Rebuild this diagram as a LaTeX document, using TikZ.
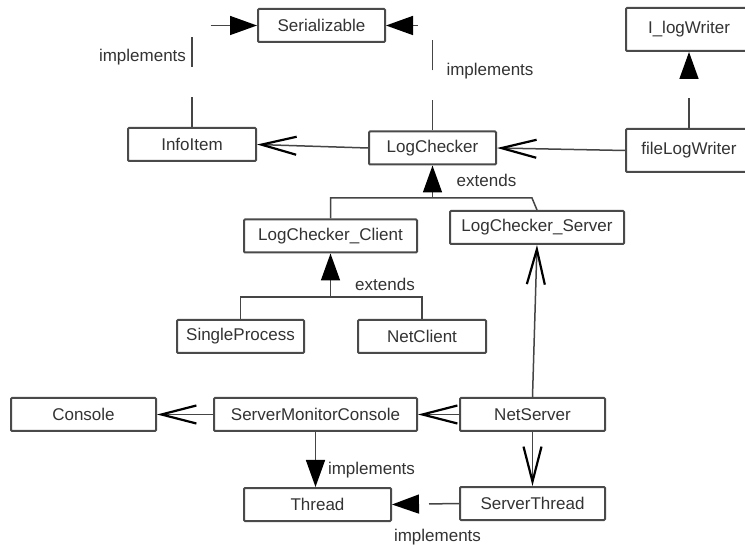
\documentclass[tikz,border=0pt]{standalone}
\usepackage{fontspec}
\setmainfont{Liberation Sans}
\usetikzlibrary{arrows.meta}
\definecolor{boxline}{HTML}{4A4A4A}
\definecolor{wire}{HTML}{454545}
\definecolor{txt}{HTML}{333333}
\begin{document}
\begin{tikzpicture}[x=1pt,y=-1pt,
  cls/.style={draw=boxline, line width=2pt, fill=white, rounded corners=1pt,
    inner sep=0pt, minimum height=33pt, text=txt,
    font=\fontsize{17}{20}\selectfont},
  lbl/.style={text=txt, inner sep=0pt, font=\fontsize{17}{20}\selectfont},
  wirestyle/.style={draw=wire, line width=1.5pt},
  extends/.style={wirestyle, -{Triangle[length=27pt,width=19pt,color=black]}},
  implements/.style={extends, dash pattern=on 30pt off 30pt},
  uses/.style={wirestyle, -{Straight Barb[length=35pt,width=18pt,line width=2.2pt,color=black]}}]
\useasboundingbox (0,0) rectangle (745,545);
\clip (0,0) rectangle (745,545);
\fill[white] (0,0) rectangle (745,545);

% classes
\node[cls, minimum width=127pt] (ser) at (321.5,25.5) {Serializable};
\node[cls, minimum width=126pt, minimum height=43pt] (ilog) at (689,29.5) {I\_logWriter};
\node[cls, minimum width=128pt] (info) at (192,144.5) {InfoItem};
\node[cls, minimum width=127pt] (lc) at (432.5,148) {LogChecker};
\node[cls, minimum width=126pt, minimum height=43pt] (flw) at (689,150.5) {fileLogWriter};
\node[cls, minimum width=173pt] (lcc) at (330.5,236) {LogChecker\_Client};
\node[cls, minimum width=174pt] (lcs) at (537,227.5) {LogChecker\_Server};
\node[cls, minimum width=127pt] (sp) at (240.5,336.5) {SingleProcess};
\node[cls, minimum width=128pt] (nc) at (422,336.5) {NetClient};
\node[cls, minimum width=145pt] (con) at (83.5,414.5) {Console};
\node[cls, minimum width=203pt] (smc) at (315.5,414.5) {ServerMonitorConsole};
\node[cls, minimum width=145pt] (ns) at (532.5,414.5) {NetServer};
\node[cls, minimum width=147pt] (thr) at (317.5,504.5) {Thread};
\node[cls, minimum width=145pt] (st) at (532.5,503.5) {ServerThread};

% interface realisations
\draw[implements] (info.north) |- (ser.west);
\draw[implements] (lc.north) |- (ser.east);
\draw[implements] (flw.north) -- (ilog.south);
\draw[implements] (smc.south) -- (smc.south |- thr.north);
\draw[implements] (st.west) -- (thr.east);

% associations
\draw[uses] (lc.west) -- (info.east);
\draw[uses] (flw.west) -- (lc.east);
\draw[uses] (ns.north) -- (lcs.south);
\draw[uses] (ns.south) -- (st.north);
\draw[uses] (ns.west) -- (smc.east);
\draw[uses] (smc.west) -- (con.east);

% inheritance trees
\coordinate (j1) at (432.5,198);
\coordinate (j1r) at (532,198);
\draw[extends] (j1) -- (lc.south);
\draw[wirestyle] (lcc.north) |- (j1) -- (j1r) -- (lcs.north);
\coordinate (j2) at (330.5,297);
\draw[extends] (j2) -- (lcc.south);
\draw[wirestyle] (sp.north) |- (j2) -| (nc.north);

% labels
\node[lbl] (l1) at (142.5,57) {implements};
\node[lbl] (l2) at (490,71) {implements};
\node[lbl] (l3) at (486.5,180) {extends};
\node[lbl] (l4) at (385,284) {extends};
\node[lbl] (l5) at (371.5,470) {implements};
\node[lbl] (l6) at (437.5,537) {implements};
\end{tikzpicture}
\end{document}
